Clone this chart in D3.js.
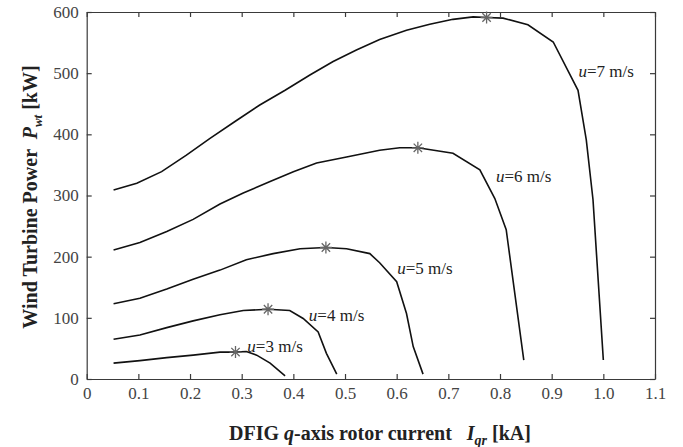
<!DOCTYPE html>
<html>
<head>
<meta charset="utf-8">
<script src="https://cdn.jsdelivr.net/npm/d3@7"></script>
<style>
  body { margin: 0; background: #fff; }
</style>
</head>
<body>
<script>
//------------------------------------------data-------------------------------------------

var xTicks = [0, 0.1, 0.2, 0.3, 0.4, 0.5, 0.6, 0.7, 0.8, 0.9, 1.0, 1.1];
var yTicks = [0, 100, 200, 300, 400, 500, 600];

// q-axis rotor current [kA] / power [kW], one pair per wind speed
var u3I = [0.052, 0.103, 0.155, 0.206, 0.258, 0.288, 0.309, 0.329, 0.355, 0.384];
var u3P = [26, 30, 35, 39, 44, 44, 45, 39, 26, 5];

var u4I = [0.052, 0.103, 0.155, 0.206, 0.258, 0.303, 0.351, 0.393, 0.419, 0.448, 0.464, 0.484];
var u4P = [65, 72, 84, 95, 105, 112, 114, 112, 99, 77, 42, 8];

var u5I = [0.052, 0.103, 0.155, 0.206, 0.258, 0.309, 0.361, 0.413, 0.463, 0.503, 0.548, 0.567, 0.600, 0.619, 0.632, 0.651];
var u5P = [123, 132, 147, 163, 178, 195, 205, 213, 215, 213, 205, 190, 159, 107, 53, 8];

var u6I = [0.052, 0.103, 0.155, 0.206, 0.258, 0.303, 0.355, 0.400, 0.445, 0.503, 0.567, 0.606, 0.641, 0.709, 0.761, 0.790, 0.812, 0.846];
var u6P = [211, 223, 241, 261, 286, 304, 323, 339, 353, 363, 374, 378, 378, 369, 342, 295, 244, 31];

var u7I = [0.052, 0.097, 0.145, 0.193, 0.238, 0.287, 0.335, 0.384, 0.432, 0.477, 0.522, 0.567, 0.619, 0.664, 0.709, 0.748, 0.774, 0.806, 0.854, 0.903, 0.951, 0.967, 0.980, 1.000];
var u7P = [309, 320, 339, 366, 393, 421, 448, 472, 497, 519, 538, 555, 570, 580, 588, 592, 591, 590, 579, 551, 472, 391, 293, 31];

// maximum power points (asterisks)
var peakI = [0.288, 0.351, 0.463, 0.641, 0.774];
var peakP = [44, 114, 215, 378, 591];

var curveNames = ["3", "4", "5", "6", "7"];
var labelI = [0.311, 0.430, 0.601, 0.792, 0.952];
var labelP = [44, 95, 172, 322, 494];

//-----------------------------------------SVG-------------------------------------------

var serif = "Liberation Serif, Times New Roman, serif";

var svg = d3.select("body")
          .append("svg")
          .attr("width", 683)
          .attr("height", 447)
          .attr("font-family", serif);

var x = d3.scaleLinear().domain([0, 1.1]).range([86.7, 655]);
var y = d3.scaleLinear().domain([0, 600]).range([379, 12]);

var axisColor = "#3a3a3a";

//-----------------------------------------axes------------------------------------------

var fmt = function(d) { return d === 0 ? "0" : d.toFixed(1); };

var gx = svg.append("g")
    .attr("transform", "translate(0," + y(0) + ")")
    .call(d3.axisBottom(x).tickValues(xTicks).tickFormat(fmt)
      .tickSizeInner(-5).tickSizeOuter(0).tickPadding(8));

var gy = svg.append("g")
    .attr("transform", "translate(" + x(0) + ",0)")
    .call(d3.axisLeft(y).tickValues(yTicks)
      .tickSizeInner(-5).tickSizeOuter(0).tickPadding(8));

var gt = svg.append("g")
    .attr("transform", "translate(0," + y(600) + ")")
    .call(d3.axisTop(x).tickValues(xTicks).tickFormat("")
      .tickSizeInner(-5).tickSizeOuter(0));

var gr = svg.append("g")
    .attr("transform", "translate(" + x(1.1) + ",0)")
    .call(d3.axisRight(y).tickValues(yTicks).tickFormat("")
      .tickSizeInner(-5).tickSizeOuter(0));

[gx, gy, gt, gr].forEach(function(g) {
  g.attr("font-family", serif).attr("font-size", 17);
  g.selectAll("path, line").attr("stroke", axisColor).attr("stroke-width", 1.2);
  g.selectAll("text").attr("fill", "#444");
});

// axis titles
var xt = svg.append("text")
    .attr("x", 380)
    .attr("y", 440)
    .attr("text-anchor", "middle")
    .attr("fill", "#222")
    .attr("font-size", 20)
    .attr("font-weight", "bold");
xt.append("tspan").text("DFIG ");
xt.append("tspan").attr("font-style", "italic").text("q");
xt.append("tspan").text("-axis rotor current \u00a0\u00a0");
xt.append("tspan").attr("font-style", "italic").text("I");
xt.append("tspan").attr("font-style", "italic").attr("font-size", 14).attr("dy", 5).text("qr");
xt.append("tspan").attr("dy", -5).text(" [kA]");

var yt = svg.append("text")
    .attr("transform", "translate(37,197) rotate(-90)")
    .attr("text-anchor", "middle")
    .attr("fill", "#222")
    .attr("font-size", 20)
    .attr("font-weight", "bold");
yt.append("tspan").text("Wind Turbine Power \u00a0");
yt.append("tspan").attr("font-style", "italic").text("P");
yt.append("tspan").attr("font-style", "italic").attr("font-size", 13).attr("dy", 5).text("wt");
yt.append("tspan").attr("dy", -5).text(" [kW]");

//-----------------------------------------curves------------------------------------------

var curves = [[u3I, u3P], [u4I, u4P], [u5I, u5P], [u6I, u6P], [u7I, u7P]];

var line = d3.line()
    .x(function(d) { return x(d[0]); })
    .y(function(d) { return y(d[1]); });

svg.append("g")
  .selectAll("path")
  .data(curves)
  .enter().append("path")
    .attr("d", function(c) { return line(d3.zip(c[0], c[1])); })
    .attr("fill", "none")
    .attr("stroke", "#111")
    .attr("stroke-width", 1.6);

//-----------------------------------------peaks------------------------------------------

var r = 6;
var star = "M0," + (-r) + "V" + r + "M" + (-r) + ",0H" + r +
           "M" + (-r * 0.7) + "," + (-r * 0.7) + "L" + (r * 0.7) + "," + (r * 0.7) +
           "M" + (-r * 0.7) + "," + (r * 0.7) + "L" + (r * 0.7) + "," + (-r * 0.7);

svg.append("g")
  .selectAll("path")
  .data(d3.zip(peakI, peakP))
  .enter().append("path")
    .attr("transform", function(d) { return "translate(" + x(d[0]) + "," + y(d[1]) + ")"; })
    .attr("d", star)
    .attr("stroke", "#666")
    .attr("stroke-width", 1.3);

//-----------------------------------------labels------------------------------------------

var lab = svg.append("g")
  .selectAll("text")
  .data(d3.zip(labelI, labelP, curveNames))
  .enter().append("text")
    .attr("x", function(d) { return x(d[0]); })
    .attr("y", function(d) { return y(d[1]); })
    .attr("fill", "#222")
    .attr("font-size", 17);

lab.append("tspan").attr("font-style", "italic").text("u");
lab.append("tspan").text(function(d) { return "=" + d[2] + " m/s"; });
</script>
</body>
</html>
